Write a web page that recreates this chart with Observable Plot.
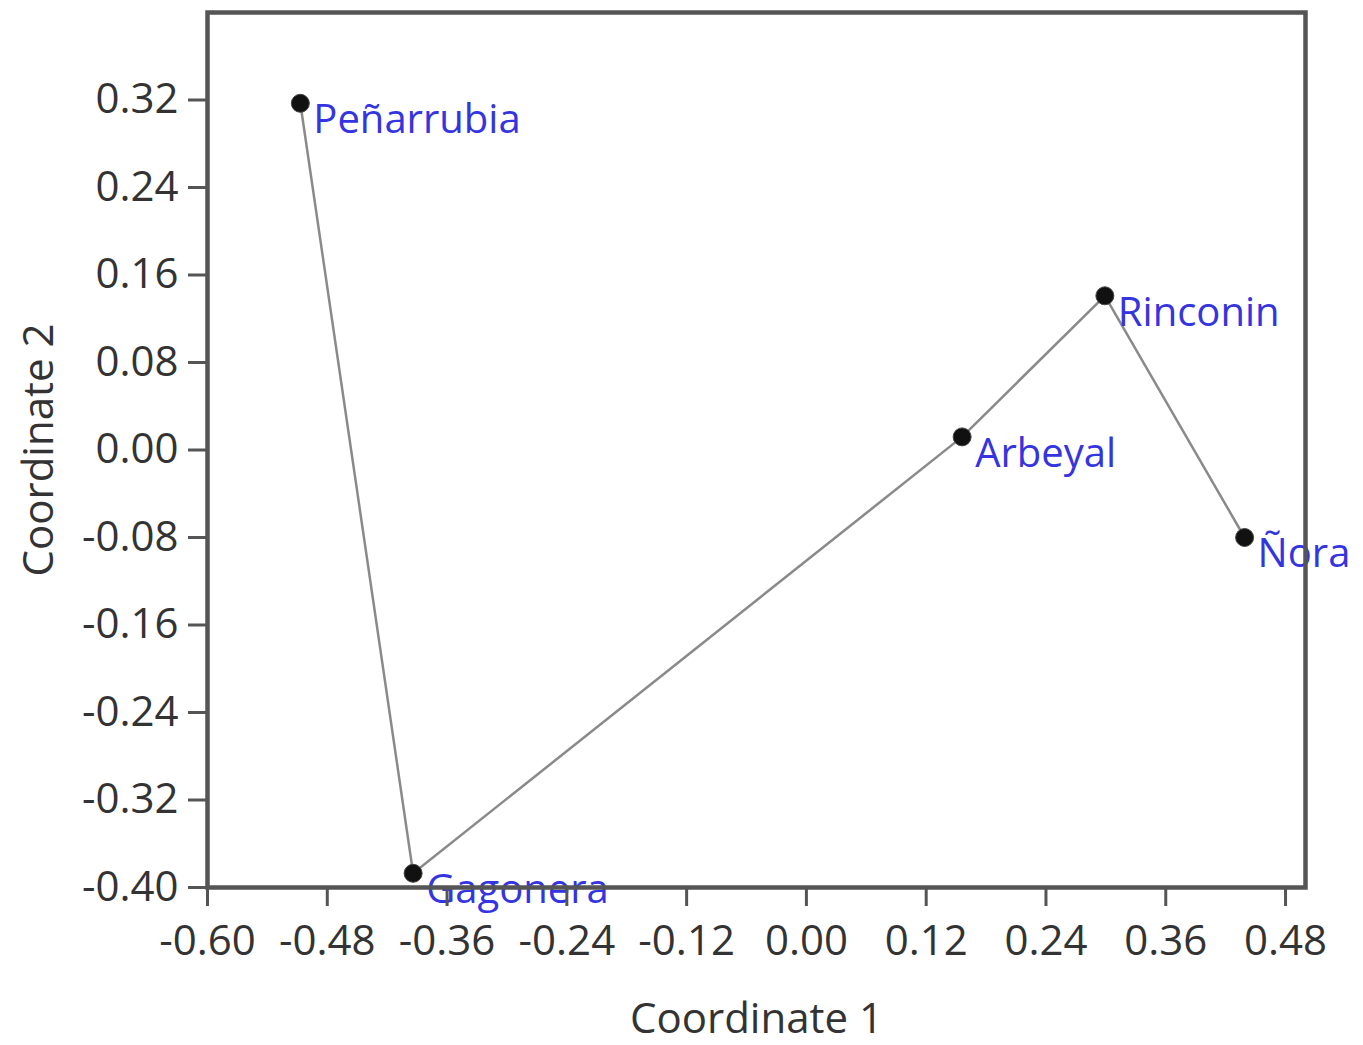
<!DOCTYPE html>
<html>
<head>
<meta charset="utf-8">
<script src="https://cdn.jsdelivr.net/npm/d3@7"></script>
<script src="https://cdn.jsdelivr.net/npm/@observablehq/plot@0.6"></script>
<style>
  html, body { margin: 0; padding: 0; background: #fff; }
  #chart { width: 1363px; height: 1045px; }
</style>
</head>
<body>
<div id="chart"></div>
<script>
const sites = ["Peñarrubia", "Gagonera", "Arbeyal", "Rinconin", "Ñora"];
const coord1 = [-0.507, -0.394, 0.156, 0.299, 0.439];
const coord2 = [0.317, -0.387, 0.012, 0.141, -0.080];
const xTicks = [-0.60, -0.48, -0.36, -0.24, -0.12, 0.00, 0.12, 0.24, 0.36, 0.48];
const yTicks = [-0.40, -0.32, -0.24, -0.16, -0.08, 0.00, 0.08, 0.16, 0.24, 0.32];

const data = sites.map((s, i) => ({site: s, x: coord1[i], y: coord2[i]}));
const fmt = d => d.toFixed(2);
const font = "'Open Sans', 'Noto Sans', sans-serif";

const chart = Plot.plot({
  width: 1363,
  height: 1045,
  marginLeft: 207,
  marginRight: 58,
  marginTop: 12,
  marginBottom: 158,
  style: {fontFamily: font, background: "#fff"},
  x: {domain: [-0.60, 0.50]},
  y: {domain: [-0.40, 0.40]},
  marks: [
    Plot.line(data, {x: "x", y: "y", stroke: "#8a8a8a", strokeWidth: 2.5}),
    Plot.dot(data, {x: "x", y: "y", r: 9, fill: "#111", stroke: "#444", strokeWidth: 1}),
    Plot.text(data, {x: "x", y: "y", text: "site", dx: 13, dy: 17, textAnchor: "start",
      fill: "#3434e0", fontSize: 40, fontFamily: font}),
    Plot.frame({stroke: "#555", strokeWidth: 4.5}),
    Plot.axisX({ticks: xTicks, tickFormat: fmt, tickSize: 19, tickPadding: 19,
      fontSize: 42, stroke: "#555", strokeWidth: 3, color: "#333",
      label: "Coordinate 1", labelAnchor: "center", labelArrow: "none", labelOffset: 145}),
    Plot.axisY({ticks: yTicks, tickFormat: fmt, tickSize: 19, tickPadding: 10,
      fontSize: 42, stroke: "#555", strokeWidth: 3, color: "#333",
      label: "Coordinate 2", labelAnchor: "center", labelArrow: "none", labelOffset: 184})
  ]
});
document.getElementById("chart").appendChild(chart);
</script>
</body>
</html>
